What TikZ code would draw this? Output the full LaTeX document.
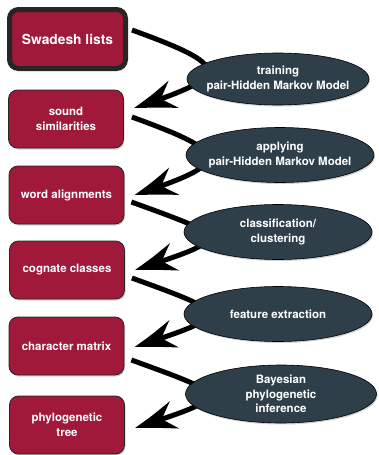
\documentclass[tikz,border=0pt]{standalone}
\usepackage{fontspec}
\setmainfont{TeX Gyre Heros}
\usetikzlibrary{arrows.meta,bending,shapes.geometric,shadows}

\definecolor{boxred}{RGB}{160,24,58}
\definecolor{slate}{RGB}{47,63,73}

\tikzset{
    databox/.style={rectangle, rounded corners=9pt, fill=boxred, draw=black!85,
        line width=0.8pt, minimum width=115pt, minimum height=58pt, inner sep=2pt,
        text=white, align=center, font=\fontsize{11.5}{14.5}\selectfont\bfseries,
        drop shadow={shadow xshift=1pt, shadow yshift=-1.5pt, opacity=.35}},
    method/.style={ellipse, fill=slate, draw=black, line width=0.6pt,
        minimum width=188pt, minimum height=55pt, inner xsep=-10pt, inner ysep=-3pt,
        text=white, align=center, font=\fontsize{11.5}{14.5}\selectfont\bfseries,
        drop shadow={shadow xshift=1pt, shadow yshift=-1.5pt, opacity=.35}},
    flow/.style={line width=5pt, -{Stealth[length=46pt, width=28pt, inset=16pt, bend]}}
}

\begin{document}
\begin{tikzpicture}[x=1pt, y=1pt]
    \useasboundingbox (0,0) rectangle (378,-455);
    \fill[white] (0,0) rectangle (378,-455);

    % data
    \node[databox, line width=5pt, minimum width=116pt, minimum height=59pt,
          font=\fontsize{13.8}{16}\selectfont\bfseries] (swadesh) at (67.5,-39) {Swadesh lists};
    \node[databox] (sound)   at (66,-119)   {sound\\similarities};
    \node[databox] (words)   at (66.5,-195) {word alignments};
    \node[databox] (cognate) at (67,-270)   {cognate classes};
    \node[databox] (matrix)  at (66.5,-346) {character matrix};
    \node[databox] (tree)    at (67,-425)   {phylogenetic\\tree};

    % steps
    \draw[flow] ([shift={(4pt,9pt)}]swadesh.east) to[out=-20, in=18, distance=105pt] ([shift={(10pt,11pt)}]sound.east);
    \draw[flow] ([shift={(8pt,2pt)}]sound.east)   to[out=-20, in=18, distance=105pt] ([xshift=10pt]words.east);
    \draw[flow] ([shift={(7pt,-7pt)}]words.east)  to[out=-20, in=18, distance=105pt] ([xshift=10pt]cognate.east);
    \draw[flow] ([shift={(7pt,-8pt)}]cognate.east) to[out=-20, in=18, distance=105pt] ([shift={(10pt,-1pt)}]matrix.east);
    \draw[flow] ([shift={(7pt,-14pt)}]matrix.east) to[out=-20, in=18, distance=105pt] ([shift={(10pt,-3pt)}]tree.east);

    % methods
    \node[method, minimum width=182pt, minimum height=52pt] (training) at (278,-79) {training\\pair-Hidden Markov Model};
    \node[method] (applying) at (280,-155) {applying\\pair-Hidden Markov Model};
    \node[method] (classify) at (278,-232) {classification/\\clustering};
    \node[method] (features) at (278,-314) {feature extraction};
    \node[method, minimum width=191pt, minimum height=58pt] (bayes) at (281,-394) {Bayesian\\phylogenetic\\inference};
\end{tikzpicture}
\end{document}
